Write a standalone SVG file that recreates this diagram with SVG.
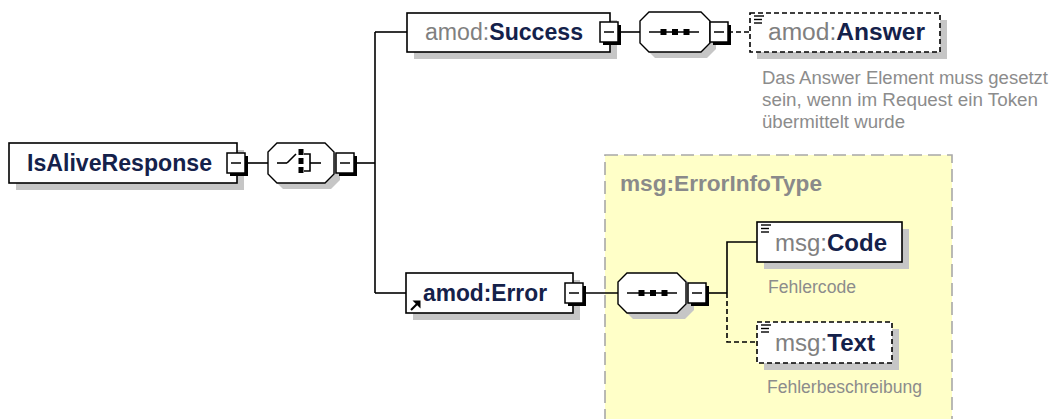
<svg xmlns="http://www.w3.org/2000/svg" xmlns:xlink="http://www.w3.org/1999/xlink" width="1054" height="419" viewBox="0 0 1054 419">
<style>
.box{fill:#fff;stroke:#000;stroke-width:1.6}
.dbox{fill:#fff;stroke:#000;stroke-width:1.6;stroke-dasharray:5 3}
.shadow{fill:#c6c6c6}
.comp{fill:#fff;stroke:#000;stroke-width:1.4}
.name{font-family:"Liberation Sans",Arial,sans-serif;font-size:23px;font-weight:bold;fill:#14214a}
.pfx{font-weight:normal;fill:#808080}
.type{font-family:"Liberation Sans",Arial,sans-serif;font-size:22px;font-weight:bold;fill:#8a8a8a}
.desc{font-family:"Liberation Sans",Arial,sans-serif;font-size:18px;fill:#8c8c8c}
.ln{stroke:#000;stroke-width:1.6;fill:none}
.dln{stroke:#000;stroke-width:1.6;fill:none;stroke-dasharray:5 3}
.zone{fill:#ffffc8;stroke:#a8a8a8;stroke-width:1.6;stroke-dasharray:13 6}
</style>
<defs>
<g id="btn">
<rect x="-6" y="-7" width="18" height="20" fill="#000"/>
<rect x="-9" y="-10" width="18" height="20" fill="#fff" stroke="#000" stroke-width="1.5"/>
<line x1="-5" y1="0" x2="5" y2="0" stroke="#000" stroke-width="1.5"/>
</g>
<g id="doc" stroke="#000" stroke-width="1.4">
<line x1="0" y1="0" x2="10" y2="0"/>
<line x1="0" y1="3.5" x2="8" y2="3.5"/>
<line x1="0" y1="7" x2="8" y2="7"/>
</g>
<g id="seqicon">
<line x1="-24" y1="0" x2="26" y2="0" stroke="#000" stroke-width="1.6"/>
<rect x="-12.5" y="-3" width="6" height="6" fill="#000"/>
<rect x="-1" y="-3" width="6" height="6" fill="#000"/>
<rect x="10.5" y="-3" width="6" height="6" fill="#000"/>
</g>
</defs>

<rect class="zone" x="605" y="155" width="347" height="290"/>
<text class="type" x="620" y="191" textLength="202" lengthAdjust="spacingAndGlyphs">msg:ErrorInfoType</text>

<g id="connectors">
<line class="ln" x1="245" y1="163" x2="268" y2="163"/>
<line class="ln" x1="354" y1="163" x2="375" y2="163"/>
<line class="ln" x1="375" y1="32" x2="375" y2="293"/>
<line class="ln" x1="375" y1="32" x2="407" y2="32"/>
<line class="ln" x1="375" y1="293" x2="406" y2="293"/>
<line class="ln" x1="618" y1="32" x2="640" y2="32"/>
<line class="dln" x1="728" y1="32" x2="750" y2="32"/>
<line class="ln" x1="583" y1="293" x2="618" y2="293"/>
<line class="ln" x1="706" y1="293" x2="727" y2="293"/>
<polyline class="ln" points="727,293 727,242 757,242"/>
<polyline class="dln" points="727,293 727,342 757,342"/>
</g>

<g id="IsAliveResponse">
<rect class="shadow" x="16" y="150" width="228" height="40"/>
<rect class="box" x="9" y="143" width="228" height="40"/>
<text class="name" x="27" y="171" textLength="185" lengthAdjust="spacingAndGlyphs">IsAliveResponse</text>
<use xlink:href="#btn" href="#btn" x="236" y="163"/>
</g>

<g id="choice">
<path class="shadow" d="M283,149 H331 L340,158 V180 L331,189 H283 L274,180 V158 Z"/>
<path class="comp" d="M277,143 H325 L334,152 V174 L325,183 H277 L268,174 V152 Z"/>
<g stroke="#000" stroke-width="1.6" fill="none">
<line x1="277" y1="163" x2="287" y2="163"/>
<line x1="287" y1="163" x2="296" y2="154"/>
<polyline points="304,154 310,154 310,171 304,171"/>
<line x1="310" y1="163" x2="321" y2="163"/>
</g>
<rect x="298.5" y="149" width="5" height="6" fill="#000"/>
<rect x="298.5" y="158" width="5" height="6" fill="#000"/>
<rect x="298.5" y="167" width="5" height="6" fill="#000"/>
<use xlink:href="#btn" href="#btn" x="345" y="163"/>
</g>

<g id="Success">
<rect class="shadow" x="414" y="20" width="203" height="39"/>
<rect class="box" x="407" y="13" width="203" height="39"/>
<text class="name" x="425" y="40" textLength="158" lengthAdjust="spacingAndGlyphs"><tspan class="pfx">amod:</tspan>Success</text>
<use xlink:href="#btn" href="#btn" x="609" y="32"/>
</g>

<g id="seq1">
<path class="shadow" d="M655,18 H707 L716,27 V49 L707,58 H655 L646,49 V27 Z"/>
<path class="comp" d="M649,12 H701 L710,21 V43 L701,52 H649 L640,43 V21 Z"/>
<use xlink:href="#seqicon" href="#seqicon" x="673" y="32"/>
<use xlink:href="#btn" href="#btn" x="719" y="32"/>
</g>

<g id="Answer">
<rect class="shadow" x="757" y="20" width="190" height="39"/>
<rect class="dbox" x="750" y="13" width="190" height="39"/>
<use xlink:href="#doc" href="#doc" x="754" y="16"/>
<text class="name" x="768" y="40" textLength="157" lengthAdjust="spacingAndGlyphs"><tspan class="pfx">amod:</tspan>Answer</text>
<text class="desc" x="762" y="84" textLength="286" lengthAdjust="spacingAndGlyphs">Das Answer Element muss gesetzt</text>
<text class="desc" x="762" y="106" textLength="276" lengthAdjust="spacingAndGlyphs">sein, wenn im Request ein Token</text>
<text class="desc" x="762" y="128" textLength="143" lengthAdjust="spacingAndGlyphs">übermittelt wurde</text>
</g>

<g id="Error">
<rect class="shadow" x="413" y="280" width="167" height="40"/>
<rect class="box" x="406" y="273" width="167" height="40"/>
<text class="name" x="423" y="301" textLength="124" lengthAdjust="spacingAndGlyphs">amod:Error</text>
<line x1="411" y1="310" x2="417" y2="304" stroke="#000" stroke-width="2.2"/>
<polygon points="412.5,300.5 420.5,300.5 420.5,308.5" fill="#000"/>
<use xlink:href="#btn" href="#btn" x="574" y="293"/>
</g>

<g id="seq2">
<path class="shadow" d="M633,279 H685 L694,288 V310 L685,319 H633 L624,310 V288 Z"/>
<path class="comp" d="M627,273 H677 L686,282 V304 L677,313 H627 L618,304 V282 Z"/>
<use xlink:href="#seqicon" href="#seqicon" x="651" y="293"/>
<use xlink:href="#btn" href="#btn" x="697" y="293"/>
</g>

<g id="Code">
<rect class="shadow" x="764" y="229" width="145" height="40"/>
<rect class="box" x="757" y="222" width="145" height="40"/>
<use xlink:href="#doc" href="#doc" x="761" y="225"/>
<text class="name" x="775" y="251" textLength="112" lengthAdjust="spacingAndGlyphs"><tspan class="pfx">msg:</tspan>Code</text>
<text class="desc" x="768" y="293" textLength="88" lengthAdjust="spacingAndGlyphs">Fehlercode</text>
</g>

<g id="Text">
<rect class="shadow" x="764" y="329" width="135" height="41"/>
<rect class="dbox" x="757" y="322" width="135" height="41"/>
<use xlink:href="#doc" href="#doc" x="761" y="325"/>
<text class="name" x="775" y="351" textLength="100" lengthAdjust="spacingAndGlyphs"><tspan class="pfx">msg:</tspan>Text</text>
<text class="desc" x="767" y="393" textLength="155" lengthAdjust="spacingAndGlyphs">Fehlerbeschreibung</text>
</g>
</svg>
